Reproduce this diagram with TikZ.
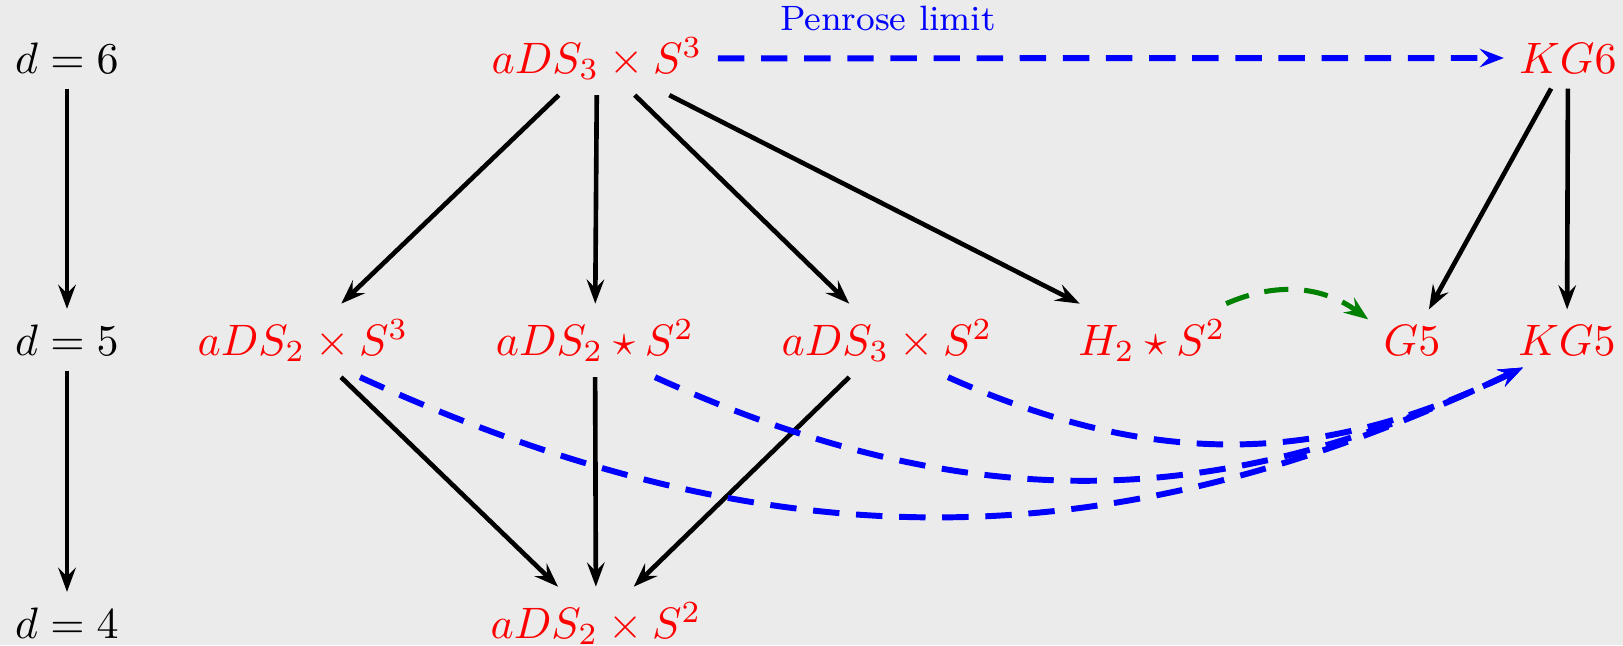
\documentclass[tikz,border=0pt]{standalone}
\usetikzlibrary{arrows.meta,calc}
\definecolor{bgc}{RGB}{235,235,235}
\begin{document}
\begin{tikzpicture}[x=0.22727pt,y=-0.22727pt,
  lab/.style={text=red,anchor=base},
  dlab/.style={text=black,anchor=base},
  blk/.style={draw=black,line width=1.05pt,-{Stealth[length=5.5pt,width=4pt,inset=2pt]}},
  pen/.style={draw=blue,line width=1.35pt,dash pattern=on 6pt off 3.8pt,-{Stealth[length=5.5pt,width=4.2pt,inset=2pt]}},
  grn/.style={draw=green!50!black,line width=1.15pt,dash pattern=on 5.5pt off 3.6pt,-{Stealth[length=5.5pt,width=4.2pt,inset=2pt]}}]
\fill[bgc] (0,0) rectangle (1623,645);
\useasboundingbox (0,0) rectangle (1623,645);
\node[dlab] (d6) at (67,73) {$d=6$};
\node[dlab] (d5) at (67,355) {$d=5$};
\node[dlab] (d4) at (67,638) {$d=4$};
\node[lab] (A) at (597,73) {$aDS_3\times S^3$};
\node[lab] (KG6) at (1568,73) {$KG6$};
\node[lab] (B1) at (303,355) {$aDS_2\times S^3$};
\node[lab] (B2) at (595,355) {$aDS_2\star S^2$};
\node[lab] (B3) at (887,355) {$aDS_3\times S^2$};
\node[lab] (B4) at (1152,355) {$H_2\star S^2$};
\node[lab] (G5) at (1412,355) {$G5$};
\node[lab] (KG5) at (1567,355) {$KG5$};
\node[lab] (C) at (596,638) {$aDS_2\times S^2$};
\node[text=blue,anchor=base,font=\footnotesize] (P) at (888,30) {Penrose limit};
\draw[blk] (d6) -- (d5);
\draw[blk] (d5) -- (d4);
\draw[blk] (A) -- (B1);
\draw[blk] (A) -- (B2);
\draw[blk] (A) -- (B3);
\draw[blk] (A) -- (B4);
\draw[blk] (KG6) -- (G5);
\draw[blk] (KG6) -- (KG5);
\draw[blk] (B1) -- (C);
\draw[blk] (B2) -- (C);
\draw[blk] (B3) -- (C);
\draw[pen] (A) -- (KG6);
\draw[grn] ($(B4.north east)+(-15,0)$) to[bend left=30] ($(G5.north west)+(0,10)$);
\draw[pen] ($(B1.south)+(57,0)$) to[bend right=25] ($(KG5.south west)+(20,-3)$);
\draw[pen] ($(B2.south)+(60,0)$) to[bend right=25] ($(KG5.south west)+(20,-3)$);
\draw[pen] ($(B3.south)+(61,0)$) to[bend right=25] ($(KG5.south west)+(20,-3)$);
\end{tikzpicture}
\end{document}
